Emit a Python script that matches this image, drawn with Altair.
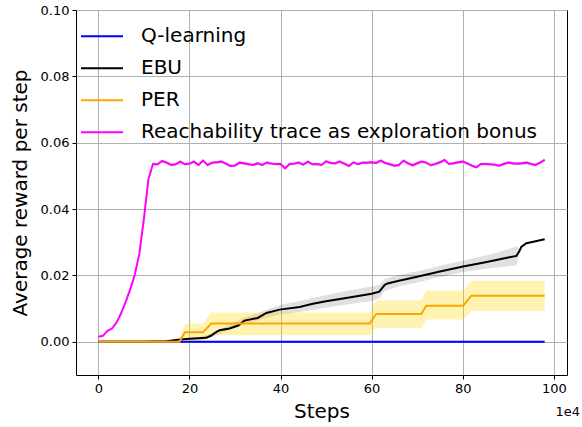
import altair as alt
import pandas as pd

# ---------------- data ----------------
NAMES = ["Q-learning", "EBU", "PER", "Reachability trace as exploration bonus"]
COLORS = ["#0000ff", "#000000", "#ffa500", "#ff00ff"]

X_TICKS = [0, 20, 40, 60, 80, 100]
Y_TICKS = [0.0, 0.02, 0.04, 0.06, 0.08, 0.10]

# Q-learning (flat at zero)
Q_X = [0, 20, 40, 60, 80, 98]
Q_Y = [0.0, 0.0, 0.0, 0.0, 0.0, 0.0]

# EBU mean
EBU_X = [0, 10, 15, 17.9, 20, 23.7, 24.8, 25.7, 26.6, 28.8, 30.7, 32.1, 35, 36.9,
         39.8, 44.2, 47.1, 50, 54.4, 57.4, 60, 61.7, 62.3, 62.9, 63.5, 66, 70, 75,
         80.1, 85, 90, 91.8, 92.4, 92.9, 94, 96, 98]
EBU_Y = [0.0, 0.0, 0.0002, 0.0007, 0.0009, 0.0012, 0.0019, 0.0028, 0.0035, 0.0040,
         0.0049, 0.0064, 0.0072, 0.0087, 0.0097, 0.0105, 0.0115, 0.0122, 0.0132,
         0.0139, 0.0145, 0.0151, 0.0162, 0.0172, 0.0176, 0.0184, 0.0196, 0.0212,
         0.0227, 0.0240, 0.0254, 0.0259, 0.0272, 0.0287, 0.0297, 0.0303, 0.0309]
# EBU band
EBU_BX = [0, 15, 18, 22, 25, 28, 32, 36, 40, 45, 50, 55, 60, 61.7, 62.9, 66, 70, 75,
          80, 85, 88, 91.8, 92.4]
EBU_LO = [0.0, 0.0001, 0.0005, 0.0006, 0.0014, 0.0031, 0.0053, 0.0068, 0.0082, 0.0091,
          0.0103, 0.0113, 0.0123, 0.0131, 0.0154, 0.0167, 0.0179, 0.0195, 0.0210,
          0.0220, 0.0225, 0.0231, 0.0262]
EBU_HI = [0.0, 0.0003, 0.0009, 0.0014, 0.0026, 0.0047, 0.0073, 0.0092, 0.0112, 0.0125,
          0.0141, 0.0155, 0.0167, 0.0171, 0.0190, 0.0201, 0.0213, 0.0229, 0.0244,
          0.0260, 0.0271, 0.0287, 0.0282]

# PER mean (step-like)
PER_X = [0, 17.8, 19.0, 23.0, 24.8, 59.6, 61.0, 70.9, 72.0, 80.1, 81.9, 98]
PER_Y = [0.0, 0.0, 0.0029, 0.0029, 0.0055, 0.0055, 0.0084, 0.0084, 0.0109, 0.0109,
         0.0139, 0.0139]
PER_LO = [0.0, 0.0, 0.0002, 0.0002, 0.0020, 0.0020, 0.0042, 0.0042, 0.0067, 0.0067,
          0.0093, 0.0093]
PER_HI = [0.0, 0.0, 0.0055, 0.0055, 0.0088, 0.0088, 0.0125, 0.0125, 0.0155, 0.0155,
          0.0184, 0.0184]

# Reachability trace (one value per 1e4 steps, 0..98)
REACH_X = list(range(99))
REACH_Y = [0.0015, 0.0018, 0.0033, 0.0040, 0.0058, 0.0086, 0.0120, 0.0158, 0.0202, 0.0265,
           0.0370, 0.0490, 0.0536, 0.0535, 0.0545, 0.0540, 0.0533, 0.0535, 0.0543, 0.0535,
           0.0537, 0.0543, 0.0533, 0.0546, 0.0533, 0.0540, 0.0541, 0.0543, 0.0537, 0.0530,
           0.0531, 0.0540, 0.0538, 0.0535, 0.0533, 0.0538, 0.0533, 0.0540, 0.0537, 0.0536,
           0.0536, 0.0523, 0.0536, 0.0537, 0.0540, 0.0534, 0.0543, 0.0535, 0.0536, 0.0533,
           0.0544, 0.0539, 0.0538, 0.0543, 0.0537, 0.0530, 0.0541, 0.0535, 0.0540, 0.0540,
           0.0541, 0.0539, 0.0546, 0.0539, 0.0535, 0.0531, 0.0533, 0.0546, 0.0538, 0.0532,
           0.0538, 0.0543, 0.0540, 0.0532, 0.0536, 0.0541, 0.0548, 0.0536, 0.0538, 0.0541,
           0.0543, 0.0538, 0.0531, 0.0526, 0.0536, 0.0536, 0.0535, 0.0534, 0.0531, 0.0536,
           0.0540, 0.0538, 0.0537, 0.0538, 0.0540, 0.0536, 0.0533, 0.0540, 0.0548]
REACH_HALF = [0.0002] * 12 + [0.0004] * 87

# ---------------- tables ----------------
lines = pd.concat([
    pd.DataFrame({"series": NAMES[0], "x": Q_X, "y": Q_Y}),
    pd.DataFrame({"series": NAMES[1], "x": EBU_X, "y": EBU_Y}),
    pd.DataFrame({"series": NAMES[2], "x": PER_X, "y": PER_Y}),
    pd.DataFrame({"series": NAMES[3], "x": REACH_X, "y": REACH_Y}),
], ignore_index=True)

ebu_band = pd.DataFrame({"x": EBU_BX, "lo": EBU_LO, "hi": EBU_HI})
per_band = pd.DataFrame({"x": PER_X, "lo": PER_LO, "hi": PER_HI})
reach_band = pd.DataFrame({
    "x": REACH_X,
    "lo": [v - h for v, h in zip(REACH_Y, REACH_HALF)],
    "hi": [v + h for v, h in zip(REACH_Y, REACH_HALF)],
})

FONT = "DejaVu Sans"
W, H = 491, 365

x_scale = alt.Scale(domain=[-4.9, 102.9], nice=False, zero=False)
y_scale = alt.Scale(domain=[-0.01, 0.1], nice=False, zero=False)

x_axis = alt.Axis(values=X_TICKS, format="d", title="Steps", titleFontSize=20,
                  titleFontWeight="normal", titleColor="black",
                  titleX=W / 2, titleY=36, titleBaseline="middle", titleAlign="center",
                  labelFontSize=13, labelColor="black", labelPadding=3,
                  tickColor="black", tickSize=4, domain=False,
                  grid=True, gridColor="#b0b0b0", gridWidth=1)
y_axis = alt.Axis(values=Y_TICKS, format=".2f", title="Average reward per step",
                  titleFontSize=20, titleFontWeight="normal", titleColor="black",
                  titleAngle=270, titleX=-56, titleY=H / 2, titleBaseline="middle",
                  titleAlign="center",
                  labelFontSize=13, labelColor="black", labelPadding=3,
                  tickColor="black", tickSize=4, domain=False,
                  grid=True, gridColor="#b0b0b0", gridWidth=1)

def band(df, color, opacity):
    return alt.Chart(df).mark_area(color=color, opacity=opacity).encode(
        x=alt.X("x:Q", scale=x_scale, axis=x_axis),
        y=alt.Y("lo:Q", scale=y_scale, axis=y_axis),
        y2="hi:Q",
    )

color_enc = alt.Color(
    "series:N",
    scale=alt.Scale(domain=NAMES, range=COLORS),
    legend=alt.Legend(orient="none", legendX=4, legendY=4.2, title=None,
                      symbolType="stroke", symbolSize=1764, symbolStrokeWidth=2,
                      labelFontSize=20, labelFont=FONT, labelColor="black",
                      labelOffset=17, rowPadding=-2, padding=0, labelLimit=500),
)

def line(name):
    return alt.Chart(lines).transform_filter(
        alt.datum.series == name
    ).mark_line(strokeWidth=2).encode(
        x=alt.X("x:Q", scale=x_scale, axis=x_axis),
        y=alt.Y("y:Q", scale=y_scale, axis=y_axis),
        color=color_enc,
    )

offset_text = alt.Chart(pd.DataFrame({"t": ["1e4"]})).mark_text(
    align="right", baseline="middle", fontSize=13, font=FONT, color="black"
).encode(text="t:N", x=alt.value(504), y=alt.value(402))

chart = alt.layer(
    band(ebu_band, "#000000", 0.12),
    band(per_band, "#ffd700", 0.3),
    band(reach_band, "#b080c0", 0.6),
    line(NAMES[0]), line(NAMES[1]), line(NAMES[2]), line(NAMES[3]),
    offset_text,
).properties(
    width=W, height=H,
    autosize=alt.AutoSizeParams(type="none"),
    padding={"left": 76, "top": 10, "right": 15, "bottom": 52},
).configure(font=FONT).configure_view(stroke="black", strokeWidth=1)

chart.save("out.html", embed_options={"renderer": "svg", "actions": False})
